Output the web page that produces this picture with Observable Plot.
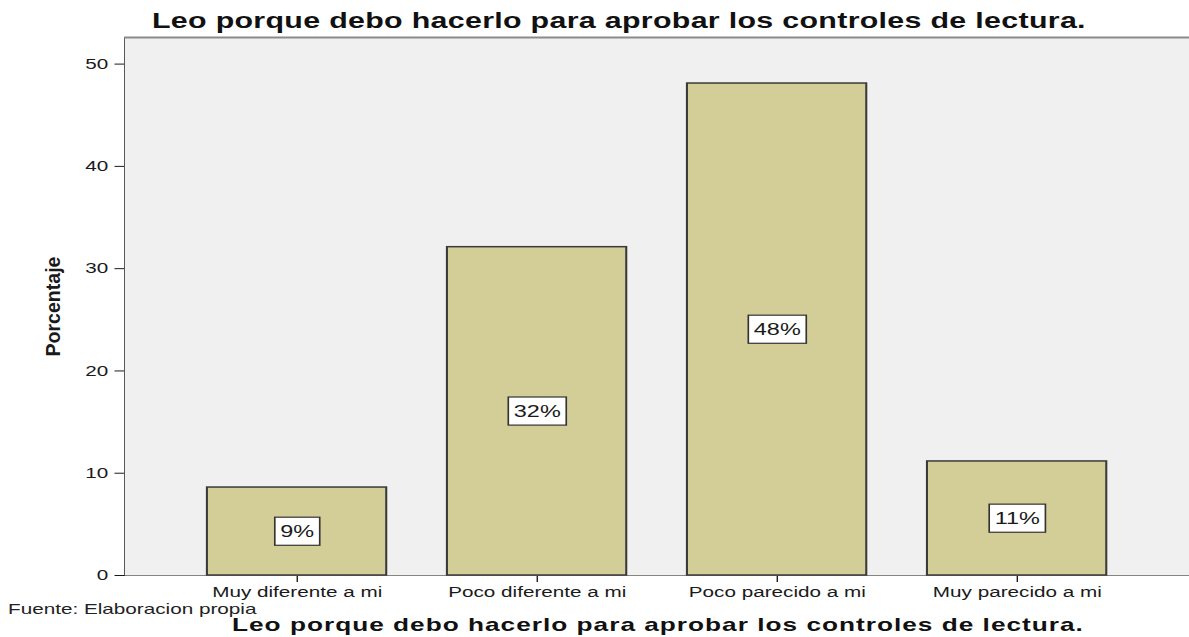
<!DOCTYPE html>
<html>
<head>
<meta charset="utf-8">
<script src="https://cdn.jsdelivr.net/npm/d3@7"></script>
<script src="https://cdn.jsdelivr.net/npm/@observablehq/plot@0.6"></script>
<style>
  html, body { margin: 0; padding: 0; background: #ffffff; }
  body { width: 1189px; height: 637px; overflow: hidden; font-family: "Liberation Sans", Arial, sans-serif; }
  #wrap { position: relative; width: 862px; height: 637px; transform: scaleX(1.3794); transform-origin: 0 0; }
  .ttl { position: absolute; white-space: nowrap; font-weight: bold; line-height: 1; color: #111; }
  #title { top: 9.7px; font-size: 22px; }
  #xtitle { top: 614.5px; font-size: 19px; }
  #caption { position: absolute; top: 601px; left: 5.8px; font-size: 15px; line-height: 1; color: #222; white-space: nowrap; }
  #chart { position: absolute; top: 30px; left: 0; }
</style>
</head>
<body>
<div id="wrap">
  <span id="title" class="ttl"></span>
  <div id="chart"></div>
  <span id="caption"></span>
  <span id="xtitle" class="ttl"></span>
</div>
<script>
const titleText = "Leo porque debo hacerlo para aprobar los controles de lectura.";
const yAxisLabel = "Porcentaje";
const captionText = "Fuente: Elaboracion propia";
const categories = ["Muy diferente a mi", "Poco diferente a mi", "Poco parecido a mi", "Muy parecido a mi"];
const percentages = [8.6, 32.1, 48.1, 11.15];
const pctLabels = ["9%", "32%", "48%", "11%"];
const yTicks = [0, 10, 20, 30, 40, 50];
const yMax = 52.6;

const data = categories.map((c, i) => ({cat: c, pct: percentages[i], label: pctLabels[i]}));

const chart = Plot.plot({
  width: 862,
  height: 575,
  marginLeft: 90,
  marginRight: 0,
  marginTop: 7,
  marginBottom: 30,
  style: {fontFamily: "Liberation Sans, Arial, sans-serif", fontSize: "15px", color: "#1a1a1a", overflow: "visible", background: "transparent"},
  x: {domain: categories, paddingInner: 0.2515, paddingOuter: 0.34, label: null, tickSize: 7, tickPadding: 4, line: true},
  y: {domain: [0, yMax], ticks: yTicks, label: yAxisLabel, labelAnchor: "center", labelOffset: 58, tickSize: 7, tickPadding: 5, line: true},
  marks: [
    Plot.frame({fill: "#f0f0f0", stroke: null}),
    Plot.ruleY([yMax], {stroke: "#8a8a8a", strokeWidth: 2}),
    Plot.barY(data, {x: "cat", y: "pct", fill: "#d3cd97", stroke: "#3a3a3a", strokeWidth: 1.5}),
    Plot.text(data, {x: "cat", y: d => d.pct / 2, text: "label", fontSize: 17, fill: "#1a1a1a"})
  ]
});
document.getElementById("chart").appendChild(chart);

// Boxes behind percentage labels, sized from the rendered text
Array.from(chart.querySelectorAll("text"))
  .filter(t => pctLabels.includes(t.textContent.trim()))
  .forEach(t => {
    const b = t.getBBox();
    const padX = 4, padY = 5;
    const r = document.createElementNS("http://www.w3.org/2000/svg", "rect");
    r.setAttribute("x", b.x - padX);
    r.setAttribute("y", b.y - padY + 1);
    r.setAttribute("width", b.width + 2 * padX);
    r.setAttribute("height", b.height + 2 * padY - 1);
    r.setAttribute("fill", "#ffffff");
    r.setAttribute("stroke", "#333333");
    r.setAttribute("stroke-width", "1.2");
    if (t.getAttribute("transform")) r.setAttribute("transform", t.getAttribute("transform"));
    t.parentNode.insertBefore(r, t);
  });

// y-axis label styling (no arrow)
const ylg = chart.querySelector('g[aria-label="y-axis label"]');
const yl = ylg ? ylg.querySelector("text") : null;
if (yl) {
  yl.textContent = yAxisLabel;
  yl.style.fontWeight = "bold";
  yl.style.fontSize = "15px";
  yl.setAttribute("textLength", "100");
  yl.setAttribute("lengthAdjust", "spacingAndGlyphs");
}

// HTML texts
function fit(el, text, left, target) {
  el.textContent = text;
  el.style.left = left + "px";
  el.style.letterSpacing = "0px";
  const w = el.getBoundingClientRect().width / 1.3794;
  const ls = (target - w) / text.length;
  el.style.letterSpacing = ls + "px";
}
fit(document.getElementById("title"), titleText, 110.2, 677);
fit(document.getElementById("xtitle"), titleText, 168.2, 617.6);
document.getElementById("caption").textContent = captionText;
</script>
</body>
</html>
